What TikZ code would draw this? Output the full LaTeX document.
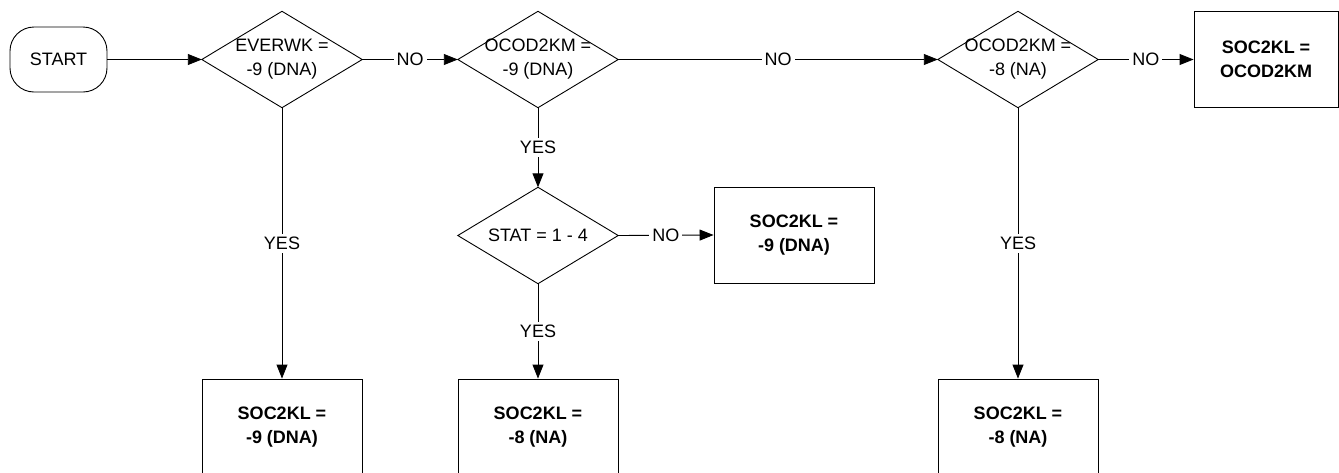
\documentclass[tikz,border=0pt]{standalone}
\usepackage{fontspec}
\setmainfont{Liberation Sans}
\usetikzlibrary{arrows.meta}
\begin{document}
\begin{tikzpicture}[x=1pt,y=-1pt,
  every node/.style={font=\fontsize{18}{24}\selectfont},
  line/.style={line width=0.9pt},
  arr/.style={line width=0.9pt,-{Triangle[length=14pt,width=11pt]}},
  dia/.style={rectangle,minimum width=160pt,minimum height=96pt,inner sep=0pt,align=center},
  resbox/.style={draw,line width=0.9pt,rectangle,minimum width=160pt,minimum height=96pt,inner sep=0pt,align=center,font=\fontsize{18}{24}\selectfont\bfseries},
  startbox/.style={draw,line width=0.9pt,rectangle,rounded corners=24pt,minimum width=97pt,minimum height=65pt},
  lbl/.style={fill=white,inner sep=3pt}]
\useasboundingbox (0,0) rectangle (1339,472);

\node[startbox] (start) at (58.5,59.5) {START};
\node[dia] (d1) at (282,59.5) {\raisebox{0pt}{}EVERWK =\\-9 (DNA)};
\node[dia] (d2) at (538,59.5) {OCOD2KM =\\-9 (DNA)};
\node[dia] (d3) at (1018,59.5) {OCOD2KM =\\-8 (NA)};
\node[dia] (d4) at (538,235.5) {STAT = 1 - 4};
\node[resbox,minimum width=144pt] (r1) at (1266,59.5) {SOC2KL =\\OCOD2KM};
\node[resbox] (r2) at (794,235) {SOC2KL =\\-9 (DNA)};
\node[resbox] (r3) at (282,427) {SOC2KL =\\-9 (DNA)};
\node[resbox] (r4) at (538,427) {SOC2KL =\\-8 (NA)};
\node[resbox] (r5) at (1018,427) {SOC2KL =\\-8 (NA)};

\foreach \d in {d1,d2,d3,d4}
  \draw[line] (\d.north) -- (\d.east) -- (\d.south) -- (\d.west) -- cycle;

\draw[arr] (start.east) -- (d1.west);
\draw[arr] (d1.east) -- node[lbl] {NO} (d2.west);
\draw[arr] (d2.east) -- node[lbl] {NO} (d3.west);
\draw[arr] (d3.east) -- node[lbl] {NO} (r1.west);
\draw[arr] (d2.south) -- node[lbl] {YES} (d4.north);
\draw[arr] (d4.east) -- node[lbl] {NO} (r2.west);
\draw[arr] (d1.south) -- node[lbl] {YES} (r3.north);
\draw[arr] (d4.south) -- node[lbl] {YES} (r4.north);
\draw[arr] (d3.south) -- node[lbl] {YES} (r5.north);
\end{tikzpicture}
\end{document}
